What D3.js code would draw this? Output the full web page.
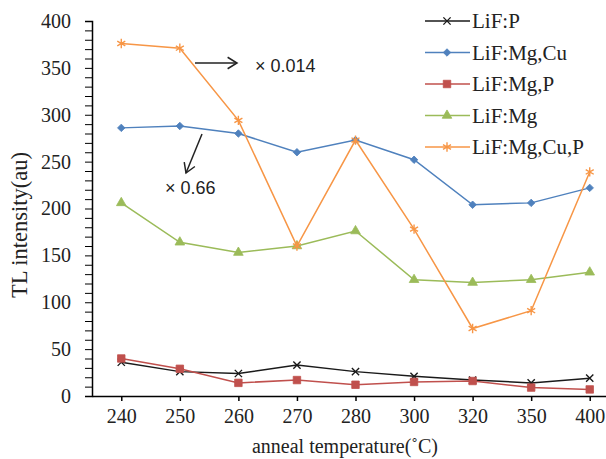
<!DOCTYPE html>
<html>
<head>
<meta charset="utf-8">
<script src="https://cdn.jsdelivr.net/npm/d3@7"></script>
<style>
  body { margin: 0; background: #fff; }
  text { font-family: "Liberation Serif", "Times New Roman", serif; fill: #222; }
  .note { font-family: "Liberation Sans", Arial, sans-serif; }
</style>
</head>
<body>
<div class="chart"></div>
<script>
// anneal temperatures (categories on x)
const temps = ["240", "250", "260", "270", "280", "300", "320", "350", "400"];

// TL intensity for each sample
const lifP      = [36, 26, 24, 33, 26, 21, 17, 14, 19];
const lifMgCu   = [286, 288, 280, 260, 273, 252, 204, 206, 222];
const lifMgP    = [40, 29, 14, 17, 12, 15, 16, 9, 7];
const lifMg     = [206, 164, 153, 160, 176, 124, 121, 124, 132];
const lifMgCuP  = [376, 371, 294, 160, 273, 178, 72, 91, 239];

const seriesNames = ["LiF:P", "LiF:Mg,Cu", "LiF:Mg,P", "LiF:Mg", "LiF:Mg,Cu,P"];
const yTicks = [0, 50, 100, 150, 200, 250, 300, 350, 400];

const width = 606, height = 459;

const svg = d3.select(".chart")
    .append("svg")
    .attr("width", width)
    .attr("height", height);

const series = [
    {name: seriesNames[0], values: lifP,     color: "#1a1a1a", symbol: d3.symbolTimes,    size: 36, stroke: true},
    {name: seriesNames[1], values: lifMgCu,  color: "#4f81bd", symbol: d3.symbolSquare,   size: 28, rotate: 45},
    {name: seriesNames[2], values: lifMgP,   color: "#c0504d", symbol: d3.symbolSquare,   size: 56},
    {name: seriesNames[3], values: lifMg,    color: "#9bbb59", symbol: d3.symbolTriangle, size: 40},
    {name: seriesNames[4], values: lifMgCuP, color: "#f79646", symbol: d3.symbolAsterisk, size: 60, stroke: true}
];

var xScale = d3.scalePoint()
    .domain(temps)
    .range([92, 619])
    .padding(0.5);

var yScale = d3.scaleLinear()
    .domain([0, 400])
    .range([396, 21]);

// y axis: minor ticks every 10, labels every 50
const yAxis = d3.axisLeft(yScale)
    .tickValues(d3.range(0, 401, 10))
    .tickSize(7)
    .tickPadding(14)
    .tickFormat(d => yTicks.includes(d) ? d : "");

svg.append("g")
    .attr("class", "axis y-axis")
    .attr("transform", "translate(92,0)")
    .call(yAxis)
    .call(g => g.select(".domain").attr("stroke-width", 1.5))
    .call(g => g.selectAll("text").style("font-size", "20px").attr("fill", "#222"));

const xAxis = d3.axisBottom(xScale)
    .tickSize(5)
    .tickSizeOuter(0)
    .tickPadding(8);

svg.append("g")
    .attr("class", "axis x-axis")
    .attr("transform", "translate(0,396)")
    .call(xAxis)
    .call(g => g.select(".domain").attr("stroke-width", 1.5))
    .call(g => g.selectAll(".tick line").attr("stroke-width", 1.5))
    .call(g => g.selectAll("text").style("font-size", "20px").attr("fill", "#222"));

const line = d3.line()
    .x((d, i) => xScale(temps[i]))
    .y(d => yScale(d));

series.forEach(s => {
    svg.append("path")
        .datum(s.values)
        .attr("fill", "none")
        .attr("stroke", s.color)
        .attr("stroke-width", 1.5)
        .attr("d", line);

    svg.append("g")
        .selectAll("path")
        .data(s.values)
        .enter()
        .append("path")
        .attr("d", d3.symbol().type(s.symbol).size(s.size))
        .attr("transform", (d, i) => `translate(${xScale(temps[i])},${yScale(d)})` + (s.rotate ? ` rotate(${s.rotate})` : ""))
        .attr("fill", s.stroke ? "none" : s.color)
        .attr("stroke", s.color)
        .attr("stroke-width", s.stroke ? 1.4 : 0.8);
});

// legend
const legend = svg.selectAll(".legend")
    .data(series)
    .enter()
    .append("g")
    .attr("class", "legend")
    .attr("transform", (d, i) => `translate(425,${21 + i * 31.5})`);

legend.append("line")
    .attr("x1", 0)
    .attr("x2", 45)
    .attr("stroke", d => d.color)
    .attr("stroke-width", 1.5);

legend.append("path")
    .attr("d", d => d3.symbol().type(d.symbol).size(d.size)())
    .attr("transform", d => "translate(22,0)" + (d.rotate ? ` rotate(${d.rotate})` : ""))
    .attr("fill", d => d.stroke ? "none" : d.color)
    .attr("stroke", d => d.color)
    .attr("stroke-width", d => d.stroke ? 1.4 : 0.8);

legend.append("text")
    .attr("x", 47)
    .attr("dy", "0.35em")
    .style("font-size", "21px")
    .text(d => d.name);

// axis titles
svg.append("text")
    .attr("x", 345)
    .attr("y", 453)
    .attr("text-anchor", "middle")
    .style("font-size", "20px")
    .text("anneal temperature(˚C)");

svg.append("text")
    .attr("transform", "translate(19,225) rotate(-90)")
    .attr("text-anchor", "middle")
    .attr("dy", "0.35em")
    .style("font-size", "22.5px")
    .text("TL intensity(au)");

// scale notes with arrows
const arrows = [
    {x1: 195, y1: 63, x2: 237, y2: 63},
    {x1: 202, y1: 134, x2: 186, y2: 173}
];

arrows.forEach(a => {
    svg.append("line")
        .attr("x1", a.x1).attr("y1", a.y1)
        .attr("x2", a.x2).attr("y2", a.y2)
        .attr("stroke", "#222")
        .attr("stroke-width", 1.5);
    const ang = Math.atan2(a.y2 - a.y1, a.x2 - a.x1);
    const L = 11, spread = 0.55;
    const p1 = [a.x2 - L * Math.cos(ang - spread), a.y2 - L * Math.sin(ang - spread)];
    const p2 = [a.x2 - L * Math.cos(ang + spread), a.y2 - L * Math.sin(ang + spread)];
    svg.append("path")
        .attr("d", `M${p1[0]},${p1[1]}L${a.x2},${a.y2}L${p2[0]},${p2[1]}`)
        .attr("fill", "none")
        .attr("stroke", "#222")
        .attr("stroke-width", 1.5);
});

svg.append("text")
    .attr("class", "note")
    .attr("x", 255)
    .attr("y", 66)
    .attr("dy", "0.35em")
    .style("font-size", "18px")
    .text("× 0.014");

svg.append("text")
    .attr("class", "note")
    .attr("x", 165)
    .attr("y", 188)
    .attr("dy", "0.35em")
    .style("font-size", "18px")
    .text("× 0.66");
</script>
</body>
</html>
